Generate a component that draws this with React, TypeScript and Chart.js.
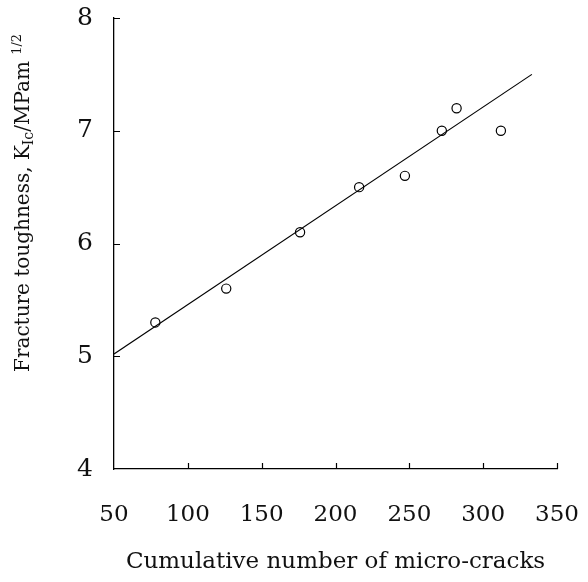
import React, { useEffect, useRef } from "react";
import { Chart, registerables } from "chart.js";

Chart.register(...registerables);

// Measured points: cumulative micro-crack count vs fracture toughness
const crackCounts = [78, 126, 176, 216, 247, 272, 282, 312];
const toughness = [5.3, 5.6, 6.1, 6.5, 6.6, 7.0, 7.2, 7.0];

// Linear fit, end points
const fitX = [50, 333];
const fitY = [5.02, 7.5];

const xTicks = [50, 100, 150, 200, 250, 300, 350];
const yTicks = [4, 5, 6, 7, 8];

const FONT = "'DejaVu Serif', 'Liberation Serif', serif";

// Inward tick marks and the rich-text y-axis title (subscript / superscript)
const decorations = {
  id: "decorations",
  afterDraw(chart: any) {
    const { ctx, chartArea } = chart;
    const x = chart.scales.x;
    const y = chart.scales.y;
    ctx.save();
    ctx.strokeStyle = "#000";
    ctx.lineWidth = 1.2;
    ctx.beginPath();
    xTicks.forEach((v) => {
      if (v === xTicks[0]) return;
      const px = Math.round(x.getPixelForValue(v)) + 0.5;
      ctx.moveTo(px, chartArea.bottom);
      ctx.lineTo(px, chartArea.bottom - 6);
    });
    yTicks.forEach((v) => {
      if (v === yTicks[0]) return;
      const py = Math.round(y.getPixelForValue(v)) + 0.5;
      ctx.moveTo(chartArea.left, py);
      ctx.lineTo(chartArea.left + 6, py);
    });
    ctx.stroke();

    const parts = [
      { t: "Fracture toughness, K", size: 20, shift: 0 },
      { t: "Ic", size: 14, shift: 4 },
      { t: "/MPam ", size: 20, shift: 0 },
      { t: "1/2", size: 13, shift: -8 },
    ];
    let total = 0;
    parts.forEach((p) => {
      ctx.font = `${p.size}px ${FONT}`;
      total += ctx.measureText(p.t).width;
    });
    const cx = 22;
    const cy = chartArea.top + (chartArea.bottom - chartArea.top) * 0.41;
    ctx.translate(cx, cy);
    ctx.rotate(-Math.PI / 2);
    ctx.fillStyle = "#111";
    ctx.textBaseline = "alphabetic";
    ctx.textAlign = "left";
    let pos = -total / 2;
    parts.forEach((p) => {
      ctx.font = `${p.size}px ${FONT}`;
      ctx.fillText(p.t, pos, 7 + p.shift);
      pos += ctx.measureText(p.t).width;
    });
    ctx.restore();
  },
};

export default function App() {
  const ref = useRef<HTMLCanvasElement>(null);

  useEffect(() => {
    document.body.style.margin = "0";
    const chart = new Chart(ref.current!, {
      type: "scatter",
      data: {
        datasets: [
          {
            type: "line",
            data: fitX.map((v, i) => ({ x: v, y: fitY[i] })),
            borderColor: "#000",
            borderWidth: 1.2,
            pointRadius: 0,
            fill: false,
          },
          {
            data: crackCounts.map((v, i) => ({ x: v, y: toughness[i] })),
            pointStyle: "circle",
            pointRadius: 4.6,
            pointBorderWidth: 1.2,
            pointBorderColor: "#000",
            pointBackgroundColor: "#fff",
            showLine: false,
          },
        ],
      },
      options: {
        animation: false,
        responsive: false,
        layout: { padding: { top: 18, right: 31, left: 0, bottom: 0 } },
        plugins: {
          legend: { display: false },
          tooltip: { enabled: false },
        },
        scales: {
          x: {
            type: "linear",
            min: 50,
            max: 350,
            afterBuildTicks: (s: any) => {
              s.ticks = xTicks.map((v) => ({ value: v }));
            },
            afterFit: (s: any) => {
              s.height = 113;
              s.paddingLeft = 0;
              s.paddingRight = 0;
            },
            grid: { display: false, drawTicks: false },
            border: { display: true, color: "#000", width: 1.3 },
            ticks: {
              padding: 32,
              color: "#111",
              font: { family: FONT, size: 23 },
              maxRotation: 0,
            },
            title: {
              display: true,
              text: "Cumulative number of micro-cracks",
              color: "#111",
              font: { family: FONT, size: 23 },
              padding: { top: 0, bottom: 6 },
            },
          },
          y: {
            type: "linear",
            min: 4,
            max: 8,
            afterBuildTicks: (s: any) => {
              s.ticks = yTicks.map((v) => ({ value: v }));
            },
            afterFit: (s: any) => {
              s.width = 114;
              s.paddingTop = 0;
              s.paddingBottom = 0;
            },
            grid: { display: false, drawTicks: false },
            border: { display: true, color: "#000", width: 1.3 },
            ticks: {
              padding: 21,
              color: "#111",
              font: { family: FONT, size: 25 },
            },
          },
        },
      },
      plugins: [decorations],
    } as any);
    return () => chart.destroy();
  }, []);

  return (
    <div style={{ width: 588, height: 582, background: "#fff" }}>
      <canvas ref={ref} width={588} height={582} />
    </div>
  );
}
